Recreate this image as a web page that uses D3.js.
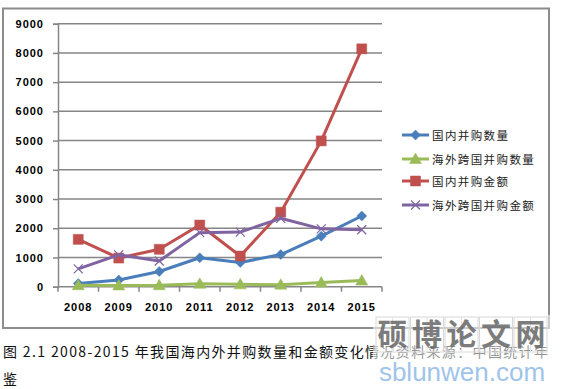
<!DOCTYPE html>
<html>
<head>
<meta charset="utf-8">
<script src="https://cdn.jsdelivr.net/npm/d3@7"></script>
<style>
  html, body { margin: 0; padding: 0; background: #fff; }
  svg { display: block; }
</style>
</head>
<body>
<div id="chart"></div>
<script>
// 2008-2015 并购数量和金额
const years = ["2008", "2009", "2010", "2011", "2012", "2013", "2014", "2015"];
const domesticCount = [110, 230, 520, 990, 830, 1100, 1730, 2420];
const overseasCount = [50, 40, 50, 100, 80, 70, 140, 210];
const domesticAmount = [1620, 980, 1280, 2110, 1050, 2550, 4990, 8140];
const overseasAmount = [610, 1090, 880, 1850, 1870, 2340, 1980, 1950];
const yTicks = [0, 1000, 2000, 3000, 4000, 5000, 6000, 7000, 8000, 9000];

const seriesNames = ["国内并购数量", "海外跨国并购数量", "国内并购金额", "海外跨国并购金额"];
const seriesColors = ["#4a7ebb", "#9bbb59", "#c0504d", "#8064a2"];
const seriesMarkers = ["diamond", "triangle", "square", "cross"];

const W = 565, H = 389;
const plot = { left: 58, right: 382, top: 23.7, bottom: 286.7 };

const svg = d3.select("#chart").append("svg")
  .attr("width", W).attr("height", H);

// outer frame
svg.append("rect")
  .attr("x", 3).attr("y", 8.5)
  .attr("width", 546).attr("height", 319.5)
  .attr("fill", "#fff")
  .attr("stroke", "#8c8c8c")
  .attr("stroke-width", 2);

const x = d3.scaleBand().domain(years).range([plot.left, plot.right]).padding(0);
const y = d3.scaleLinear().domain([0, 9000]).range([plot.bottom, plot.top]);
const cx = d => x(d) + x.bandwidth() / 2;

// grid lines
svg.append("g").selectAll("line")
  .data(yTicks.filter(t => t > 0))
  .join("line")
  .attr("x1", plot.left).attr("x2", plot.right)
  .attr("y1", d => y(d)).attr("y2", d => y(d))
  .attr("stroke", "#868686").attr("stroke-width", 1.5);

// y axis
const yAxis = svg.append("g")
  .attr("transform", `translate(${plot.left},0)`)
  .call(d3.axisLeft(y).tickValues(yTicks).tickSize(5).tickPadding(9).tickFormat(d3.format("d")));
yAxis.select(".domain").attr("stroke", "#868686").attr("stroke-width", 1.5);
yAxis.selectAll(".tick line").attr("stroke", "#868686").attr("stroke-width", 1.5);
yAxis.selectAll("text")
  .attr("font-family", "'Liberation Sans', Arial, sans-serif")
  .attr("font-size", 11).attr("font-weight", "bold")
  .attr("letter-spacing", 1).attr("fill", "#000");

// x axis
const xAxisG = svg.append("g").attr("transform", `translate(0,${plot.bottom})`);
xAxisG.append("line")
  .attr("x1", plot.left).attr("x2", plot.right)
  .attr("stroke", "#868686").attr("stroke-width", 1.5);
const bounds = years.map(d => x(d)).concat([plot.right]);
xAxisG.selectAll(".tk").data(bounds).join("line")
  .attr("class", "tk")
  .attr("x1", d => d).attr("x2", d => d)
  .attr("y1", 0).attr("y2", 5)
  .attr("stroke", "#868686").attr("stroke-width", 1.5);
xAxisG.selectAll("text").data(years).join("text")
  .attr("x", d => cx(d)).attr("y", 24)
  .attr("text-anchor", "middle")
  .attr("font-family", "'Liberation Sans', Arial, sans-serif")
  .attr("font-size", 11).attr("font-weight", "bold")
  .attr("letter-spacing", 1)
  .text(d => d);

function markerPath(type) {
  if (type === "diamond") return "M0,-5L5,0L0,5L-5,0Z";
  if (type === "triangle") return "M0,-6L6,4.5L-6,4.5Z";
  if (type === "square") return "M-5,-5H5V5H-5Z";
  return "M-4.5,-4.5L4.5,4.5M-4.5,4.5L4.5,-4.5";
}

const allSeries = [domesticCount, overseasCount, domesticAmount, overseasAmount];
const line = d3.line().x((d, i) => cx(years[i])).y(d => y(d));

allSeries.forEach((vals, si) => {
  const g = svg.append("g");
  g.append("path")
    .attr("d", line(vals))
    .attr("fill", "none")
    .attr("stroke", seriesColors[si])
    .attr("stroke-width", 3)
    .attr("stroke-linejoin", "round");
  const isCross = seriesMarkers[si] === "cross";
  g.selectAll("path.m").data(vals).join("path")
    .attr("class", "m")
    .attr("transform", (d, i) => `translate(${cx(years[i])},${y(d)})`)
    .attr("d", markerPath(seriesMarkers[si]))
    .attr("fill", isCross ? "none" : seriesColors[si])
    .attr("stroke", seriesColors[si])
    .attr("stroke-width", isCross ? 1.2 : 0.5);
});

// legend
const legendY = [135, 159, 181, 205];
const legend = svg.append("g");
seriesNames.forEach((name, i) => {
  const g = legend.append("g").attr("transform", `translate(0,${legendY[i]})`);
  g.append("line")
    .attr("x1", 402).attr("x2", 429)
    .attr("stroke", seriesColors[i]).attr("stroke-width", 3);
  g.append("path")
    .attr("transform", "translate(415.5,0)")
    .attr("d", markerPath(seriesMarkers[i]))
    .attr("fill", seriesMarkers[i] === "cross" ? "none" : seriesColors[i])
    .attr("stroke", seriesColors[i])
    .attr("stroke-width", seriesMarkers[i] === "cross" ? 1.2 : 0.5);
  g.append("text")
    .attr("x", 432).attr("y", 4.5)
    .attr("font-family", "'Noto Sans CJK SC', sans-serif")
    .attr("font-size", 11.5).attr("letter-spacing", 1.4)
    .attr("fill", "#222")
    .text(name);
});

// caption
const caption = svg.append("g")
  .attr("font-family", "'Noto Sans CJK SC', sans-serif")
  .attr("font-size", 14).attr("fill", "#111");
caption.append("text")
  .attr("x", 3).attr("y", 357)
  .attr("textLength", 545).attr("lengthAdjust", "spacing")
  .text("图 2.1 2008-2015 年我国海内外并购数量和金额变化情况资料来源：中国统计年");
caption.append("text")
  .attr("x", 3).attr("y", 384)
  .text("鉴");

// watermark
const wm = svg.append("g");
wm.append("rect")
  .attr("x", 373).attr("y", 315).attr("width", 182).attr("height", 45)
  .attr("fill", "#fff").attr("opacity", 0.55);
const wmChars = ["硕", "博", "论", "文", "网"];
wmChars.forEach((c, i) => {
  const bx = 376 + i * 34.5;
  wm.append("rect")
    .attr("x", bx).attr("y", 317).attr("width", 33).attr("height", 35)
    .attr("fill", "none").attr("stroke", "#d8d8d8").attr("stroke-width", 1);
  wm.append("line")
    .attr("x1", bx + 16.5).attr("x2", bx + 16.5).attr("y1", 317).attr("y2", 352)
    .attr("stroke", "#e4e4e4").attr("stroke-width", 1);
  wm.append("text")
    .attr("x", bx + 16.5).attr("y", 345)
    .attr("text-anchor", "middle")
    .attr("font-family", "'Noto Sans CJK SC', sans-serif")
    .attr("font-size", 30).attr("font-weight", "bold")
    .attr("fill", "#6e6e6e").attr("opacity", 0.9)
    .text(c);
});
wm.append("text")
  .attr("x", 462).attr("y", 381)
  .attr("text-anchor", "middle")
  .attr("font-family", "'Liberation Sans', Arial, sans-serif")
  .attr("font-size", 26)
  .attr("fill", "#9fc4ea")
  .text("sblunwen.com");
</script>
</body>
</html>
